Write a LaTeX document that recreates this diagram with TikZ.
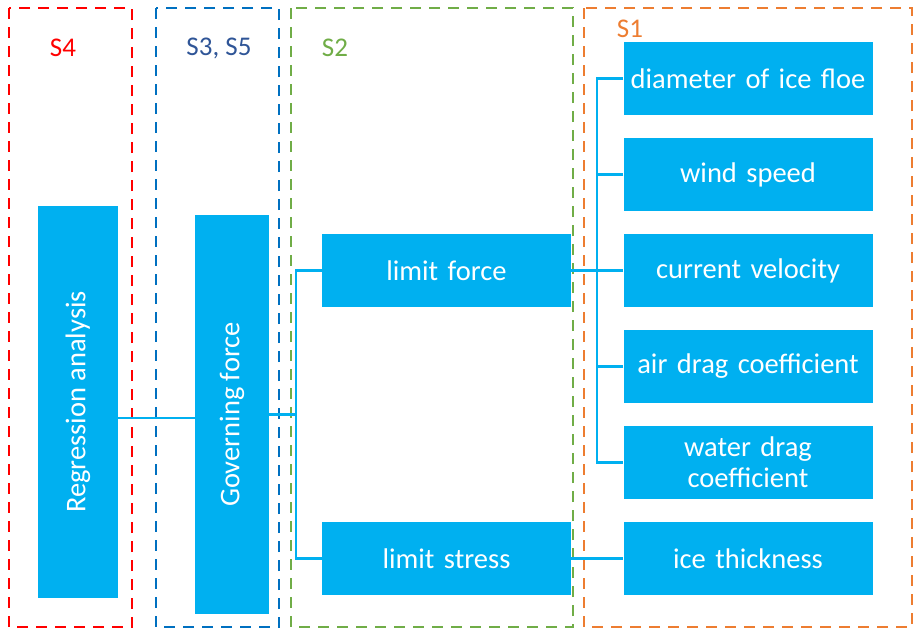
\documentclass[tikz,border=0pt]{standalone}
\usepackage{fontspec}
\setmainfont{Carlito}
\usepackage{graphicx}
\usepackage{tikz}
\usetikzlibrary{positioning, calc}
\definecolor{boxblue}{RGB}{0,176,240}
\definecolor{frred}{RGB}{255,0,0}
\definecolor{frblue}{RGB}{0,112,192}
\definecolor{frgreen}{RGB}{112,173,71}
\definecolor{frorange}{RGB}{237,125,49}
\definecolor{txtblue}{RGB}{47,85,151}
\tikzset{
  box/.style={rectangle, fill=boxblue, text=white, inner sep=0pt,
    minimum width=249pt, minimum height=73pt, text width=240pt,
    align=center, font=\fontsize{28.5}{31}\selectfont},
  vbox/.style={rectangle, fill=boxblue, text=white, inner sep=0pt,
    font=\fontsize{28.5}{31}\selectfont},
  frame/.style={line width=2.6pt, dash pattern=on 11pt off 8pt},
  tag/.style={font=\fontsize{27}{30}\selectfont},
  conn/.style={line width=2.8pt, color=boxblue}
}
\begin{document}
\begin{tikzpicture}[x=1pt, y=-1pt]
  \useasboundingbox (0,0) rectangle (916,630);
  % Step frames
  \draw[frame, frred] (9,8) rectangle (132,627);
  \draw[frame, frblue] (156,8) rectangle (279,627);
  \draw[frame, frgreen] (291,8) rectangle (573,627);
  \draw[frame, frorange] (584,8) rectangle (912,627);

  \node[tag, text=frred] (s4) at (63,48) {S4};
  \node[tag, text=txtblue] (s35) at (219,48) {S3, S5};
  \node[tag, text=frgreen] (s2) at (335,48) {S2};
  \node[tag, text=frorange] (s1) at (630,29) {S1};

  % Boxes
  \node[vbox, minimum width=80pt, minimum height=392pt] (reg) at (78,402) {\rotatebox{90}{Regression analysis}};
  \node[vbox, minimum width=74pt, minimum height=399pt] (gov) at (232,414.5) {\rotatebox{90}{Governing force}};
  \node[box] (lforce) at (446.5,270.5) {limit force};
  \node[box] (lstress) at (446.5,558.5) {limit stress};

  \node[box] (diam) at (748,78.5) {diameter of ice floe};
  \node[box] (wind) at (748,174.5) {wind speed};
  \node[box] (cur) at (748,270.5) {current velocity};
  \node[box] (air) at (748,366.5) {air drag coefficient};
  \node[box] (water) at (748,462.5) {water drag\\coefficient};
  \node[box] (ice) at (748,558.5) {ice thickness};

  % Connectors
  \coordinate (jl) at (296,414.5);
  \coordinate (jr) at (597,270.5);
  \draw[conn] ([yshift=-16pt]reg.east) -- ([yshift=-16pt]reg.east -| gov.west);
  \draw[conn] (gov.east) -- (jl);
  \draw[conn] (lforce.west) -| (jl |- lstress.west) -- (lstress.west);
  \draw[conn] (lforce.east) -- (jr);
  \draw[conn] (diam.west) -| (jr |- water.west) -- (water.west);
  \draw[conn] (wind.west) -- (wind.west -| jr);
  \draw[conn] (cur.west) -- (jr);
  \draw[conn] (air.west) -- (air.west -| jr);
  \draw[conn] (lstress.east) -- (ice.west);
\end{tikzpicture}
\end{document}
